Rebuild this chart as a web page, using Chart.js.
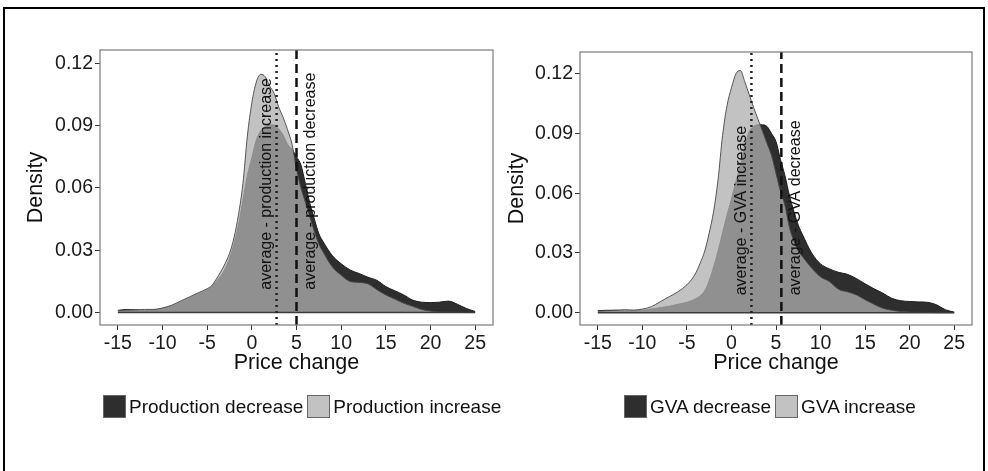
<!DOCTYPE html>
<html>
<head>
<meta charset="utf-8">
<script src="https://cdn.jsdelivr.net/npm/chart.js@4.4.1/dist/chart.umd.min.js"></script>
<style>
  html, body { margin: 0; padding: 0; background: #fff; }
  #page { position: relative; width: 988px; height: 471px; overflow: hidden; font-family: "Liberation Sans", Arial, sans-serif; }
  #frame { position: absolute; left: 3px; top: 7px; width: 978px; height: 480px; border: 2px solid #000; border-bottom: none; }
  .panel { position: absolute; top: 0; width: 494px; height: 400px; }
  .legend { position: absolute; top: 395px; display: flex; align-items: center; font-size: 19px; color: #111; white-space: nowrap; }
  .legend .key { width: 21px; height: 21px; border: 1px solid #666; margin-right: 3px; }
  .legend .lab { margin-right: 4px; }
</style>
</head>
<body>
<div id="page">
  <div id="frame"></div>
  <div class="panel" style="left:0"><canvas id="prodChart"></canvas></div>
  <div class="panel" style="left:494px"><canvas id="gvaChart"></canvas></div>
  <div class="legend" id="prodLegend" style="left:103px"></div>
  <div class="legend" id="gvaLegend" style="left:624px"></div>
</div>
<script>
// price change grid shared by all density curves
const priceGrid = [-15, -14, -13, -12, -11, -10, -9, -8, -7, -6, -5,
  -4.5, -4, -3.5, -3, -2.5, -2, -1.5, -1, -0.5, 0, 0.5, 1, 1.5, 2, 2.5, 3, 3.5,
  4, 4.5, 5, 5.5, 6, 6.5, 7, 7.5, 8,
  9, 10, 11, 12, 13, 14, 15, 16, 17, 18, 19, 20, 21, 22, 23, 24, 25];

const prodIncrease = [0.001, 0.0012, 0.0013, 0.0015, 0.0015, 0.0022, 0.0035, 0.0055, 0.0075, 0.0095, 0.0115,
  0.013, 0.016, 0.0195, 0.0235, 0.0285, 0.036, 0.047, 0.062, 0.085, 0.101, 0.111, 0.1147, 0.1135, 0.109, 0.1055, 0.099, 0.094,
  0.088, 0.081, 0.069, 0.06, 0.053, 0.046, 0.039, 0.033, 0.029,
  0.022, 0.018, 0.015, 0.0145, 0.0138, 0.011, 0.0085, 0.0065, 0.0045, 0.003, 0.0015, 0.0007, 0.0003, 0.0002, 0.0001, 0, 0];

const prodDecrease = [0.001, 0.0015, 0.0013, 0.001, 0.0012, 0.002, 0.003, 0.005, 0.007, 0.009, 0.011,
  0.0125, 0.015, 0.0175, 0.021, 0.026, 0.033, 0.042, 0.054, 0.066, 0.0745, 0.083, 0.0875, 0.0895, 0.0903, 0.0903, 0.0885, 0.0855,
  0.081, 0.0785, 0.075, 0.071, 0.062, 0.0526, 0.045, 0.038, 0.034,
  0.0275, 0.0235, 0.0205, 0.0188, 0.017, 0.0155, 0.0125, 0.0105, 0.0085, 0.006, 0.005, 0.0048, 0.005, 0.0055, 0.004, 0.002, 0.0005];

const gvaIncrease = [0.0008, 0.001, 0.0012, 0.0015, 0.0013, 0.0018, 0.003, 0.0055, 0.008, 0.0105, 0.014,
  0.0165, 0.02, 0.025, 0.031, 0.04, 0.051, 0.067, 0.089, 0.104, 0.113, 0.12, 0.1217, 0.116, 0.1095, 0.103, 0.097, 0.091,
  0.085, 0.079, 0.07, 0.061, 0.054, 0.043, 0.036, 0.031, 0.028,
  0.0225, 0.018, 0.0156, 0.0118, 0.0105, 0.009, 0.0065, 0.0042, 0.0022, 0.0012, 0.0006, 0.0003, 0.0002, 0.0001, 0, 0, 0];

const gvaDecrease = [0.001, 0.0012, 0.0012, 0.001, 0.001, 0.0012, 0.0018, 0.0025, 0.0032, 0.0042, 0.0052,
  0.006, 0.007, 0.0085, 0.011, 0.016, 0.023, 0.031, 0.04, 0.049, 0.057, 0.066, 0.074, 0.084, 0.091, 0.0937, 0.0944, 0.0944,
  0.0935, 0.09, 0.086, 0.077, 0.069, 0.059, 0.051, 0.044, 0.039,
  0.03, 0.0245, 0.022, 0.0203, 0.0193, 0.0172, 0.0145, 0.012, 0.0098, 0.0072, 0.006, 0.0056, 0.0054, 0.0052, 0.004, 0.0015, 0.0003];

// averages (vertical reference lines)
const prodMeans = { increase: 2.77, decrease: 5.0 };
const gvaMeans = { increase: 2.24, decrease: 5.6 };

const xTickValues = [-15, -10, -5, 0, 5, 10, 15, 20, 25];
const yTickValues = [0, 0.03, 0.06, 0.09, 0.12];

const DARK = "#2e2e2e";
const LIGHT_FILL = "rgba(175,175,175,0.76)";
const LIGHT_KEY = "#c2c2c2";

Chart.defaults.font.family = '"Liberation Sans", Arial, sans-serif';
Chart.defaults.color = "#1a1a1a";

function toPoints(ys) {
  return priceGrid.map((x, i) => ({ x: x, y: ys[i] }));
}

// plot box on all four sides
const panelBox = {
  id: "panelBox",
  afterDraw(chart) {
    const { ctx, chartArea: a } = chart;
    ctx.save();
    ctx.strokeStyle = "#7a7a7a";
    ctx.lineWidth = 1.2;
    ctx.strokeRect(a.left, a.top, a.right - a.left, a.bottom - a.top);
    ctx.restore();
  }
};

// rotated labels next to the average lines
const meanLabels = {
  id: "meanLabels",
  afterDatasetsDraw(chart, args, opts) {
    const { ctx, scales } = chart;
    ctx.save();
    ctx.font = '16px "Liberation Sans", Arial, sans-serif';
    ctx.fillStyle = "#111";
    ctx.textAlign = "left";
    ctx.textBaseline = "middle";
    opts.items.forEach(item => {
      const px = scales.x.getPixelForValue(item.x) + item.dx;
      const py = scales.y.getPixelForValue(item.y);
      ctx.save();
      ctx.translate(px, py);
      ctx.rotate(-Math.PI / 2);
      ctx.fillText(item.text, 0, 0);
      ctx.restore();
    });
    ctx.restore();
  }
};

function makeChart(id, cfg) {
  const ctx = document.getElementById(id).getContext("2d");
  return new Chart(ctx, {
    type: "line",
    data: {
      datasets: [
        {
          data: [{ x: cfg.means.decrease, y: cfg.yMin }, { x: cfg.means.decrease, y: cfg.yMax }],
          borderColor: "#111", borderWidth: 2.5, borderDash: [9, 5], pointRadius: 0, fill: false
        },
        {
          data: [{ x: cfg.means.increase, y: cfg.yMin }, { x: cfg.means.increase, y: cfg.yMax }],
          borderColor: "#222", borderWidth: 2.5, borderDash: [2, 4], pointRadius: 0, fill: false
        },
        {
          data: [{ x: -15, y: 0 }, { x: 25, y: 0 }],
          borderColor: "#3a3a3a", borderWidth: 1.5, pointRadius: 0, fill: false
        },
        {
          label: cfg.labels.increase,
          data: toPoints(cfg.increase),
          backgroundColor: LIGHT_FILL,
          borderColor: "rgba(70,70,70,0.9)",
          borderWidth: 1,
          pointRadius: 0,
          cubicInterpolationMode: "monotone",
          fill: "origin"
        },
        {
          label: cfg.labels.decrease,
          data: toPoints(cfg.decrease),
          backgroundColor: DARK,
          borderColor: "#1e1e1e",
          borderWidth: 1,
          pointRadius: 0,
          cubicInterpolationMode: "monotone",
          fill: "origin"
        }
      ]
    },
    options: {
      responsive: false,
      animation: false,
      events: [],
      layout: {
        padding: { top: cfg.padTop, bottom: 400 - cfg.padTop - cfg.plotHeight - 51, left: 0, right: cfg.padRight }
      },
      scales: {
        x: {
          type: "linear",
          min: -17,
          max: 27,
          afterBuildTicks: s => { s.ticks = xTickValues.map(v => ({ value: v })); },
          afterFit: s => { s.height = 51; },
          ticks: { font: { size: 19.5 }, color: "#1a1a1a", padding: 2, maxRotation: 0, callback: v => String(v) },
          grid: { display: true, drawOnChartArea: false, drawTicks: true, tickLength: 5, color: "#333" },
          border: { display: false },
          title: { display: true, text: "Price change", font: { size: 21.5 }, color: "#111", padding: { top: 0, bottom: 0 } }
        },
        y: {
          min: cfg.yMin,
          max: cfg.yMax,
          afterBuildTicks: s => { s.ticks = yTickValues.map(v => ({ value: v })); },
          afterFit: s => { s.width = cfg.yAxisWidth; },
          ticks: { font: { size: 19.5 }, color: "#1a1a1a", padding: 2, callback: v => v.toFixed(2) },
          grid: { display: true, drawOnChartArea: false, drawTicks: true, tickLength: 5, color: "#333" },
          border: { display: false },
          title: { display: true, text: "Density", font: { size: 21.5 }, color: "#111", padding: { top: cfg.titlePad, bottom: 0 } }
        }
      },
      plugins: {
        legend: { display: false },
        tooltip: { enabled: false },
        meanLabels: {
          items: [
            { x: cfg.means.increase, dx: -10, y: cfg.labelY, text: cfg.labels.meanIncrease },
            { x: cfg.means.decrease, dx: 14, y: cfg.labelY, text: cfg.labels.meanDecrease }
          ]
        }
      }
    },
    plugins: [panelBox, meanLabels]
  });
}

function buildLegend(id, labels) {
  const el = document.getElementById(id);
  [[DARK, labels.decrease], [LIGHT_KEY, labels.increase]].forEach(([col, text]) => {
    const key = document.createElement("span");
    key.className = "key";
    key.style.background = col;
    const lab = document.createElement("span");
    lab.className = "lab";
    lab.textContent = text;
    el.appendChild(key);
    el.appendChild(lab);
  });
}

const prodLabels = {
  increase: "Production increase", decrease: "Production decrease",
  meanIncrease: "average - production increase", meanDecrease: "average - production decrease"
};
const gvaLabels = {
  increase: "GVA increase", decrease: "GVA decrease",
  meanIncrease: "average - GVA increase", meanDecrease: "average - GVA decrease"
};

document.getElementById("prodChart").width = 494;
document.getElementById("prodChart").height = 400;
document.getElementById("gvaChart").width = 494;
document.getElementById("gvaChart").height = 400;

makeChart("prodChart", {
  increase: prodIncrease, decrease: prodDecrease, means: prodMeans, labels: prodLabels,
  yMin: -0.006, yMax: 0.1264, padTop: 50, plotHeight: 275, padRight: 1,
  yAxisWidth: 100, titlePad: 23, labelY: 0.011
});
makeChart("gvaChart", {
  increase: gvaIncrease, decrease: gvaDecrease, means: gvaMeans, labels: gvaLabels,
  yMin: -0.0062, yMax: 0.131, padTop: 52, plotHeight: 273, padRight: 16,
  yAxisWidth: 86, titlePad: 10, labelY: 0.0087
});

buildLegend("prodLegend", prodLabels);
buildLegend("gvaLegend", gvaLabels);
</script>
</body>
</html>
